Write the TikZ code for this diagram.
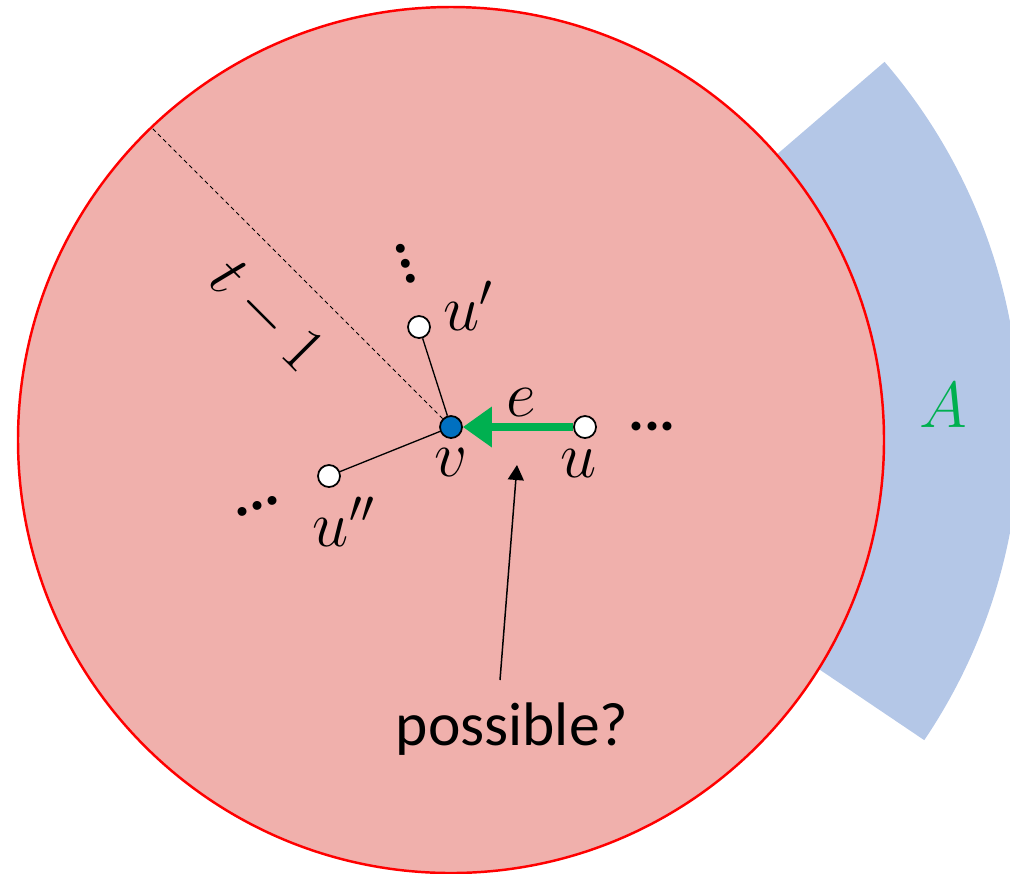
\RequirePackage{fix-cm}
\documentclass[tikz,border=0pt]{standalone}
\usepackage{fontspec}
\newfontfamily\calib{Carlito}
\usepackage{tikz}
\usetikzlibrary{arrows.meta,calc}

\definecolor{diskfill}{RGB}{240,176,172}
\definecolor{ringfill}{RGB}{180,199,231}
\definecolor{vblue}{RGB}{0,112,192}
\definecolor{egreen}{RGB}{0,176,80}

\begin{document}
\begin{tikzpicture}[
    x=0.02cm, y=-0.02cm,
    vertex/.style={circle, draw=black, line width=1pt, fill=white, minimum size=0.44cm, inner sep=0pt},
    root/.style={vertex, fill=vblue},
    edge/.style={line width=0.75pt, draw=black},
    garrow/.style={-{Triangle[length=0.58cm, width=0.78cm]}, line width=4pt, draw=egreen},
    parrow/.style={-{Triangle[length=0.3cm, width=0.32cm]}, line width=0.85pt, draw=black},
    lbl/.style={font=\fontsize{37}{44}\selectfont, inner sep=0pt},
    dots/.style={font=\calib\bfseries\fontsize{34}{40}\selectfont, inner sep=0pt, anchor=base},
    note/.style={font=\calib\fontsize{35}{42}\selectfont, inner sep=0pt, anchor=base}
]
    \useasboundingbox (0,0) rectangle (1010,873);

    % Region A
    \coordinate (ac) at (460,427);
    \fill[ringfill] ($(ac)+(-40.7:300)$) -- ($(ac)+(-40.7:560)$)
        arc[start angle=-40.7, end angle=34, radius=560]
        -- ($(ac)+(34:300)$) arc[start angle=34, end angle=-40.7, radius=300] -- cycle;
    \node[lbl, text=egreen] (A) at (943,405) {$A$};

    % Ball of radius t-1
    \draw[red, line width=1.4pt, fill=diskfill] (451,440) circle[radius=433];
    \coordinate (rim) at (152,128);

    % Vertices
    \node[root] (v) at (451,427) {};
    \node[vertex] (u1) at (419,327) {};
    \node[vertex] (u2) at (329,476) {};
    \node[vertex] (u) at (585,427) {};

    % Edges
    \draw[dash pattern=on 2.3pt off 1.9pt, line width=0.55pt] (v) -- (rim);
    \draw[edge] (v) -- (u1);
    \draw[edge] (v) -- (u2);
    \draw[garrow] (u) -- (v);

    % Labels
    \node[lbl] (lu1) at (468,306) {$u'$};
    \node[lbl] (lu2) at (344,522) {$u''$};
    \node[lbl] (lu) at (579,463) {$u$};
    \node[lbl] (lv) at (451,462) {$v$};
    \node[lbl] (le) at (521,402) {$e$};
    \node[lbl, rotate=-45] (lt) at (266,316) {$t-1$};

    \node[dots, rotate=-71.6] (d1) at (402,265) {...};
    \node[dots, rotate=21] (d2) at (259,510) {...};
    \node[dots] (d3) at (652,430) {...};

    % Question
    \node[note] (q) at (512,745) {possible?};
    \coordinate (qb) at (500,680);
    \coordinate (qt) at (517,465);
    \draw[parrow] (qb) -- (qt);

\end{tikzpicture}
\end{document}
